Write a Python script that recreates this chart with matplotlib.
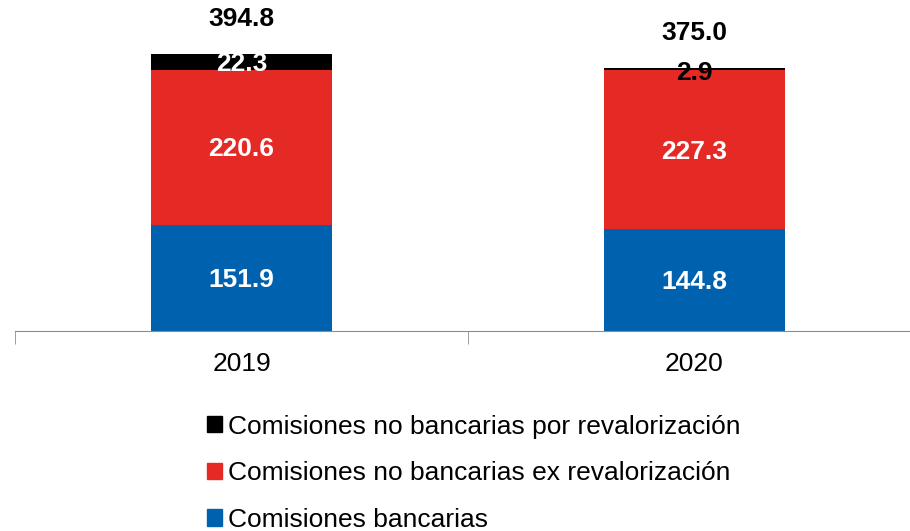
import matplotlib.pyplot as plt
import numpy as np
from matplotlib.patches import Patch

plt.rcParams['font.family'] = ['Liberation Sans', 'DejaVu Sans']

years = ["2019", "2020"]
bancarias = [151.9, 144.8]
ex_reval = [220.6, 227.3]
por_reval = [22.3, 2.9]
totals = [394.8, 375.0]

c_blue = "#0061AE"
c_red = "#E52A26"
c_black = "#000000"

fig = plt.figure(figsize=(9.10, 5.31), dpi=100)
# axes spans from the left boundary tick to past the right edge
ax = fig.add_axes([15 / 910, 1 - 331 / 531, 906 / 910, 331 / 531])

x = np.arange(len(years))
w = 0.4
b1 = np.array(bancarias)
b2 = b1 + np.array(ex_reval)

ax.bar(x, bancarias, w, color=c_blue)
ax.bar(x, ex_reval, w, bottom=b1, color=c_red)
ax.bar(x, por_reval, w, bottom=b2, color=c_black)

ax.set_xlim(-0.5, 1.5)
ax.set_ylim(0, 331 / 0.701)

fs = 19
off = 3  # labels sit a bit below the segment centre
for i in range(len(years)):
    ax.text(x[i], bancarias[i] / 2 - off, f"{bancarias[i]:.1f}", ha="center", va="center",
            color="white", fontsize=fs, fontweight="bold")
    ax.text(x[i], b1[i] + ex_reval[i] / 2 - off, f"{ex_reval[i]:.1f}", ha="center", va="center",
            color="white", fontsize=fs, fontweight="bold")
    col = "white" if por_reval[i] > 10 else "black"
    ax.text(x[i], b2[i] + por_reval[i] / 2 - (off if por_reval[i] > 10 else 5),
            f"{por_reval[i]:.1f}", ha="center", va="center",
            color=col, fontsize=fs, fontweight="bold")
    ax.text(x[i], totals[i] + 50, f"{totals[i]:.1f}", ha="center", va="center",
            color="black", fontsize=fs, fontweight="bold")

for s in ["top", "right", "left"]:
    ax.spines[s].set_visible(False)
ax.spines["bottom"].set_color("#8c8c8c")
ax.set_yticks([])
ax.set_xticks(x)
ax.set_xticklabels(years, fontsize=fs)
ax.tick_params(axis="x", which="major", length=0, pad=15)
ax.set_xticks([-0.5, 0.5, 1.5], minor=True)
ax.tick_params(axis="x", which="minor", length=9, color="#8c8c8c", direction="out")

handles = [Patch(color=c_black), Patch(color=c_red), Patch(color=c_blue)]
labels = ["Comisiones no bancarias por revalorización",
          "Comisiones no bancarias ex revalorización",
          "Comisiones bancarias"]
fig.legend(handles, labels, loc="upper left", bbox_to_anchor=(196 / 910, 1 - 404 / 531),
           frameon=False, fontsize=fs, handlelength=0.58, handleheight=0.58,
           handletextpad=0.22, labelspacing=0.86, borderaxespad=0)

fig.savefig("out.png", dpi=100)
